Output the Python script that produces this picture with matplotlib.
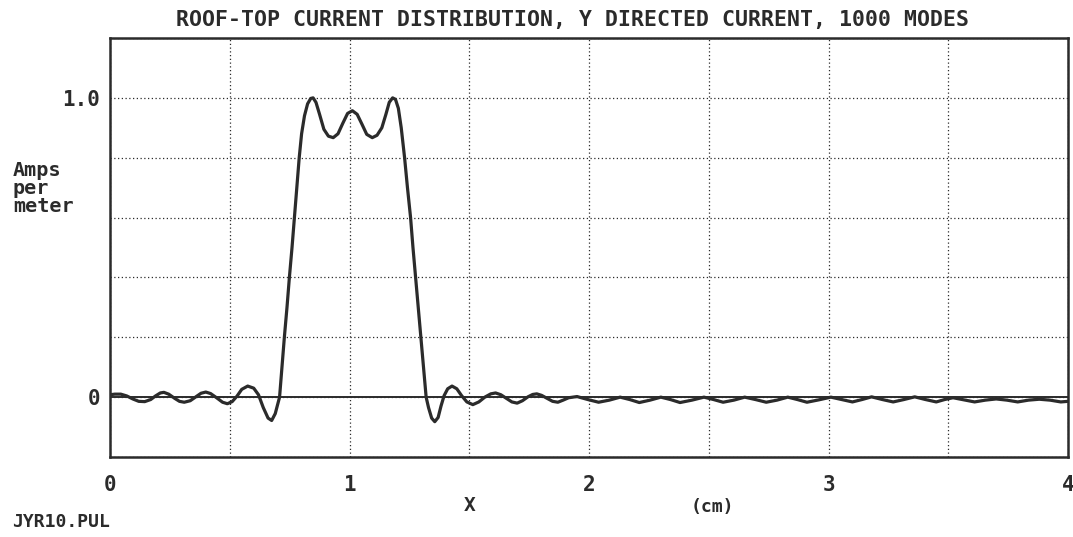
import numpy as np
import matplotlib
matplotlib.use('Agg')
import matplotlib.pyplot as plt

# curve (x in cm, current in A/m)
curve_x = [0.00, 0.02, 0.045, 0.07, 0.095, 0.12, 0.145, 0.17, 0.19, 0.21, 0.225, 0.245,
           0.27, 0.29, 0.31, 0.335, 0.36, 0.38, 0.40, 0.42, 0.445, 0.47, 0.49, 0.51,
           0.53, 0.55, 0.575, 0.60, 0.62, 0.64, 0.66, 0.675, 0.69, 0.70, 0.708, 0.718,
           0.728, 0.739, 0.749, 0.760, 0.770, 0.780, 0.790, 0.800, 0.812, 0.825, 0.838,
           0.848, 0.860, 0.875, 0.893, 0.912, 0.932, 0.952, 0.972, 0.992, 1.012, 1.032,
           1.052, 1.072, 1.095, 1.115, 1.135, 1.152, 1.166, 1.180, 1.192, 1.204, 1.216,
           1.230, 1.242, 1.255, 1.265, 1.276, 1.287, 1.298, 1.309, 1.320, 1.330, 1.343,
           1.356, 1.370, 1.382, 1.395, 1.410, 1.428, 1.448, 1.468, 1.490, 1.515, 1.540,
           1.565, 1.590, 1.610, 1.632, 1.655, 1.678, 1.700, 1.722, 1.745, 1.765, 1.782,
           1.802, 1.825, 1.848, 1.870, 1.892, 1.915, 1.950, 1.995, 2.040, 2.085, 2.130,
           2.170, 2.210, 2.255, 2.300, 2.340, 2.380, 2.430, 2.480, 2.520, 2.560, 2.605,
           2.650, 2.695, 2.740, 2.785, 2.830, 2.870, 2.910, 2.960, 3.010, 3.055, 3.100,
           3.140, 3.180, 3.225, 3.270, 3.315, 3.360, 3.405, 3.450, 3.485, 3.520, 3.565,
           3.610, 3.655, 3.700, 3.745, 3.790, 3.835, 3.880, 3.925, 3.970, 4.000]
curve_y = [0.008, 0.010, 0.010, 0.004, -0.006, -0.014, -0.015, -0.008, 0.004, 0.014, 0.016, 0.010,
           -0.004, -0.014, -0.017, -0.012, 0.002, 0.013, 0.017, 0.012, -0.002, -0.017, -0.022, -0.015,
           0.003, 0.026, 0.037, 0.030, 0.008, -0.035, -0.070, -0.078, -0.055, -0.025, 0.0, 0.10,
           0.20, 0.30, 0.40, 0.50, 0.60, 0.70, 0.80, 0.88, 0.94, 0.98, 0.998,
           1.0, 0.985, 0.945, 0.895, 0.872, 0.867, 0.880, 0.915, 0.948, 0.957, 0.945,
           0.912, 0.878, 0.867, 0.875, 0.900, 0.945, 0.985, 1.0, 0.995, 0.965, 0.90,
           0.80, 0.70, 0.60, 0.50, 0.40, 0.30, 0.20, 0.10, 0.0, -0.035, -0.070,
           -0.082, -0.068, -0.030, 0.005, 0.028, 0.037, 0.028, 0.005, -0.016, -0.025, -0.016,
           0.0, 0.011, 0.014, 0.008, -0.004, -0.016, -0.020, -0.012, 0.001, 0.009, 0.011,
           0.006, -0.004, -0.014, -0.017, -0.010, -0.002, 0.002, -0.008, -0.017, -0.010, 0.0,
           -0.008, -0.018, -0.010, 0.0, -0.008, -0.018, -0.010, 0.0, -0.008, -0.017, -0.010,
           0.0, -0.008, -0.017, -0.010, 0.0, -0.008, -0.017, -0.009, 0.0, -0.008, -0.016,
           -0.008, 0.001, -0.008, -0.016, -0.008, 0.001, -0.008, -0.016, -0.008, -0.002, -0.009,
           -0.016, -0.010, -0.006, -0.010, -0.016, -0.010, -0.007, -0.010, -0.016, -0.014]

xtick_vals = [0, 0.5, 1, 1.5, 2, 2.5, 3, 3.5, 4]
xtick_labels = ['0', '', '1', '', '2', '', '3', '', '4']
ytick_vals = [-0.2, 0, 0.2, 0.4, 0.6, 0.8, 1.0, 1.2]
ytick_labels = ['', '0', '', '', '', '', '1.0', '']

ink = '#2b2b2b'
mono = 'DejaVu Sans Mono'

fig = plt.figure(figsize=(10.73, 5.37), dpi=100)
ax = fig.add_axes([110/1073, 1 - 457/537, 958/1073, 419/537])

ax.plot(curve_x, curve_y, color=ink, linewidth=2.3, zorder=3)
ax.axhline(0, color=ink, linewidth=1.4, zorder=2)

ax.set_xlim(0, 4)
ax.set_ylim(-0.2, 1.2)
ax.set_xticks(xtick_vals)
ax.set_xticklabels(xtick_labels)
ax.set_yticks(ytick_vals)
ax.set_yticklabels(ytick_labels)
ax.tick_params(length=0, labelsize=15, labelcolor=ink)
ax.tick_params(axis='x', pad=13)
ax.tick_params(axis='y', pad=7)
for lab in ax.get_xticklabels() + ax.get_yticklabels():
    lab.set_fontfamily(mono)
    lab.set_fontweight('bold')

ax.grid(True, color=ink, linestyle=(0, (1, 2)), linewidth=0.9)
for s in ax.spines.values():
    s.set_linewidth(1.8)
    s.set_color(ink)

fig.text(0.534, 0.963, 'ROOF-TOP CURRENT DISTRIBUTION, Y DIRECTED CURRENT, 1000 MODES',
         ha='center', va='center', fontsize=15.5, fontfamily=mono, fontweight='bold', color=ink)
fig.text(0.012, 0.700, 'Amps\nper\nmeter', ha='left', va='top', fontsize=14.5,
         fontfamily=mono, fontweight='bold', color=ink, linespacing=0.92)
fig.text(0.438, 0.058, 'X', ha='center', va='center', fontsize=14,
         fontfamily=mono, fontweight='bold', color=ink)
fig.text(0.664, 0.056, '(cm)', ha='center', va='center', fontsize=13,
         fontfamily=mono, fontweight='bold', color=ink)
fig.text(0.011, 0.028, 'JYR10.PUL', ha='left', va='center', fontsize=13,
         fontfamily=mono, fontweight='bold', color=ink)

plt.savefig('out.png', dpi=100)
plt.close()
